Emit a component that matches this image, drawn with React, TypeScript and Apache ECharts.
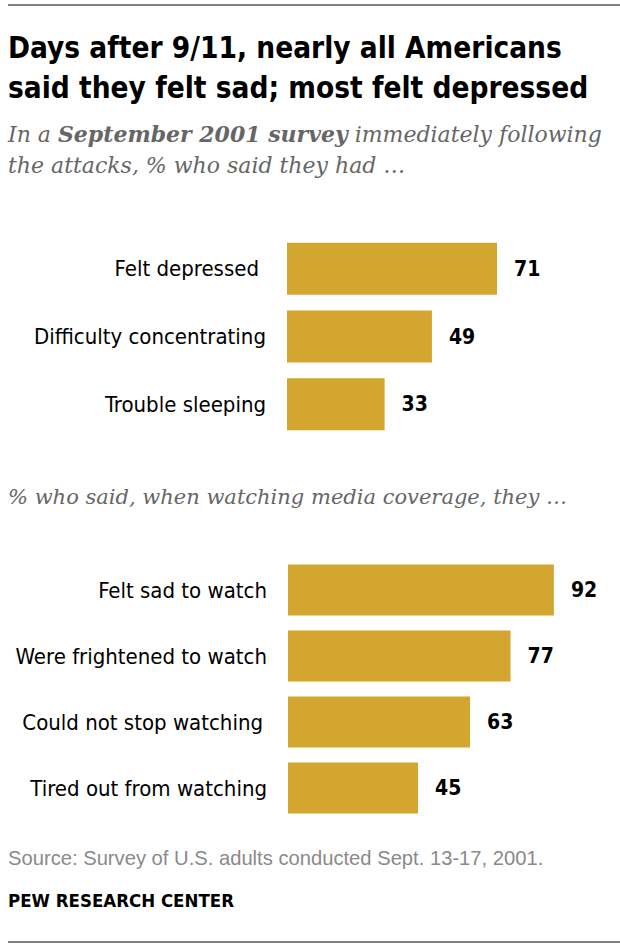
import React, { useEffect, useRef } from "react";
import * as echarts from "echarts";

const topCategories = ["Felt depressed", "Difficulty concentrating", "Trouble sleeping"];
const topValues = [71, 49, 33];
const mediaCategories = ["Felt sad to watch", "Were frightened to watch", "Could not stop watching", "Tired out from watching"];
const mediaValues = [92, 77, 63, 45];

const BAR = "#D3A62F";
const SANS = "'DejaVu Sans Condensed', Roboto, sans-serif";
const PLAIN = "'Liberation Sans', Arial, sans-serif";
const SERIF = "'DejaVu Serif', serif";

function txt(x: number, y: number, text: string, font: string, fill: string, align = "left") {
  return {
    type: "text",
    x,
    y,
    style: { text, font, fill, textAlign: align, align, textVerticalAlign: "middle", verticalAlign: "middle" },
  };
}

export default function App() {
  const ref = useRef<HTMLDivElement>(null);
  useEffect(() => {
    const chart = echarts.init(ref.current!, null, { renderer: "svg" });
    const labelStyle = { fontFamily: SANS, fontSize: 22, color: "#000" };
    const valueLabel = {
      show: true,
      position: "right",
      distance: 17,
      fontFamily: SANS,
      fontWeight: "bold",
      fontSize: 21,
      color: "#000",
    };
    const topPad = [7, 0, 0];
    const mediaPad = [0, 0, 4, 0];
    chart.setOption({
      animation: false,
      grid: [
        { left: 287, top: 235, width: 295.8, height: 203 },
        { left: 288, top: 557, width: 289, height: 264 },
      ],
      xAxis: [
        { gridIndex: 0, type: "value", min: 0, max: 100, show: false },
        { gridIndex: 1, type: "value", min: 0, max: 100, show: false },
      ],
      yAxis: [
        {
          gridIndex: 0,
          type: "category",
          inverse: true,
          data: topCategories.map((c, i) => ({ value: c, textStyle: { padding: [0, topPad[i], 0, 0] } })),
          axisLine: { show: false },
          axisTick: { show: false },
          axisLabel: { ...labelStyle, margin: 21 },
        },
        {
          gridIndex: 1,
          type: "category",
          inverse: true,
          data: mediaCategories.map((c, i) => ({ value: c, textStyle: { padding: [0, mediaPad[i], 0, 0] } })),
          axisLine: { show: false },
          axisTick: { show: false },
          axisLabel: { ...labelStyle, margin: 21 },
        },
      ],
      series: [
        {
          type: "bar",
          xAxisIndex: 0,
          yAxisIndex: 0,
          data: topValues,
          barWidth: 52,
          itemStyle: { color: BAR },
          label: valueLabel,
        },
        {
          type: "bar",
          xAxisIndex: 1,
          yAxisIndex: 1,
          data: mediaValues,
          barWidth: 51,
          itemStyle: { color: BAR },
          label: valueLabel,
        },
      ],
      graphic: [
        { type: "line", shape: { x1: 8, y1: 5, x2: 620, y2: 5 }, style: { stroke: "#000", lineWidth: 1 } },
        { type: "line", shape: { x1: 8, y1: 942, x2: 620, y2: 942 }, style: { stroke: "#000", lineWidth: 1 } },
        txt(8, 48, "Days after 9/11, nearly all Americans", `bold 29.5px ${SANS}`, "#000"),
        txt(8, 88, "said they felt sad; most felt depressed", `bold 29.5px ${SANS}`, "#000"),
        {
          type: "text",
          x: 8,
          y: 134,
          style: {
            text: "{a|In a }{b|September 2001 survey}{a| immediately following}",
            textVerticalAlign: "middle",
            verticalAlign: "middle",
            rich: {
              a: { fontFamily: SERIF, fontStyle: "italic", fontSize: 22, fill: "#666", color: "#666" },
              b: { fontFamily: SERIF, fontStyle: "italic", fontWeight: "bold", fontSize: 22, fill: "#666", color: "#666" },
            },
          },
        },
        txt(8, 165, "the attacks, % who said they had …", `italic 22px ${SERIF}`, "#666"),
        txt(8, 497, "% who said, when watching media coverage, they …", `italic 21px ${SERIF}`, "#666"),
        txt(8, 858, "Source: Survey of U.S. adults conducted Sept. 13-17, 2001.", `20.2px ${PLAIN}`, "#8a8a8a"),
        txt(8, 900, "PEW RESEARCH CENTER", `bold 18.5px ${SANS}`, "#000"),
      ],
    });
    return () => chart.dispose();
  }, []);
  return <div ref={ref} style={{ position: "absolute", left: 0, top: 0, width: 620, height: 948 }} />;
}
